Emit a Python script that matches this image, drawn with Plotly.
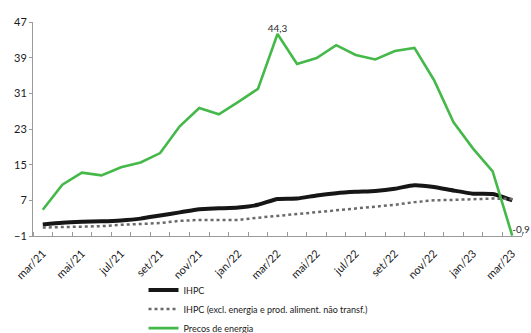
import plotly.graph_objects as go

# Monthly observations, March 2021 to March 2023 (year-on-year rate, %)
meses = ["mar/21", "abr/21", "mai/21", "jun/21", "jul/21", "ago/21", "set/21",
         "out/21", "nov/21", "dez/21", "jan/22", "fev/22", "mar/22", "abr/22",
         "mai/22", "jun/22", "jul/22", "ago/22", "set/22", "out/22", "nov/22",
         "dez/22", "jan/23", "fev/23", "mar/23"]

ihpc = [1.6, 2.0, 2.2, 2.3, 2.5, 2.9, 3.6, 4.3, 5.0, 5.2, 5.4, 6.0, 7.3,
        7.4, 8.1, 8.6, 8.9, 9.1, 9.6, 10.4, 10.0, 9.2, 8.5, 8.4, 7.0]

ihpc_sub = [0.9, 1.0, 1.1, 1.2, 1.5, 1.7, 1.9, 2.4, 2.6, 2.6, 2.6, 3.1, 3.5,
            3.9, 4.3, 4.8, 5.2, 5.6, 6.0, 6.6, 7.0, 7.1, 7.2, 7.4, 7.3]

energia = [4.9, 10.5, 13.2, 12.6, 14.4, 15.5, 17.6, 23.6, 27.7, 26.3, 29.1,
           32.0, 44.3, 37.6, 38.9, 41.8, 39.6, 38.6, 40.5, 41.2, 34.0, 24.5,
           18.6, 13.5, -0.9]

y_ticks = [-1, 7, 15, 23, 31, 39, 47]

x = list(range(len(meses)))

# Value labels on the energy series: its maximum and its last observation
i_max = energia.index(max(energia))
i_last = len(energia) - 1
lab_txt = ["" for _ in energia]
lab_pos = ["top center" for _ in energia]
for i in (i_max, i_last):
    lab_txt[i] = f"{energia[i]:.1f}".replace(".", ",")
lab_pos[i_last] = "top right"

fig = go.Figure()
fig.add_trace(go.Scatter(
    x=x, y=ihpc, name="IHPC", mode="lines",
    line=dict(color="#161616", width=4, shape="spline", smoothing=0.6),
))
fig.add_trace(go.Scatter(
    x=x, y=ihpc_sub, name="IHPC (excl. energia e prod. aliment. não transf.)",
    mode="lines", line=dict(color="#6a6a6a", width=2.5, dash="dot"),
))
fig.add_trace(go.Scatter(
    x=x, y=energia, name="Precos de energia", mode="lines+text",
    line=dict(color="#45b84a", width=2.6),
    text=lab_txt, textposition=lab_pos, cliponaxis=False,
    textfont=dict(family="Lato", size=10, color="#2b2b2b"),
))

fig.update_layout(
    width=531, height=333,
    margin=dict(l=33, r=9, t=22, b=97, autoexpand=False),
    paper_bgcolor="white", plot_bgcolor="white",
    font=dict(family="Lato", color="#1a1a1a", size=10),
    showlegend=True,
    legend=dict(
        orientation="v", x=0.226, xanchor="left", y=-0.185, yanchor="top",
        font=dict(family="Lato", size=9, color="#1a1a1a"),
        tracegroupgap=0, itemwidth=30, bgcolor="rgba(0,0,0,0)",
    ),
)

fig.update_xaxes(
    range=[-0.5, len(meses) - 0.5], automargin=False,
    tickmode="array", tickvals=x[::2], ticktext=meses[::2],
    tickangle=-45, ticks="", showgrid=False, zeroline=False,
    ticklabelstandoff=6,
    showline=True, linecolor="#9a9a9a", linewidth=1,
    tickfont=dict(family="Lato", size=11, color="#1a1a1a"),
    minor=dict(tickmode="linear", tick0=0.5, dtick=1, ticks="inside",
               ticklen=4, tickcolor="#9a9a9a", showgrid=False),
)
fig.update_yaxes(
    range=[-1, 47], automargin=False, tickmode="array", tickvals=y_ticks,
    ticks="outside", ticklen=3, tickcolor="#9a9a9a",
    showgrid=False, zeroline=False,
    showline=True, linecolor="#9a9a9a", linewidth=1,
    tickfont=dict(family="Lato", size=11, color="#1a1a1a"),
)

fig.write_html("out.html")
